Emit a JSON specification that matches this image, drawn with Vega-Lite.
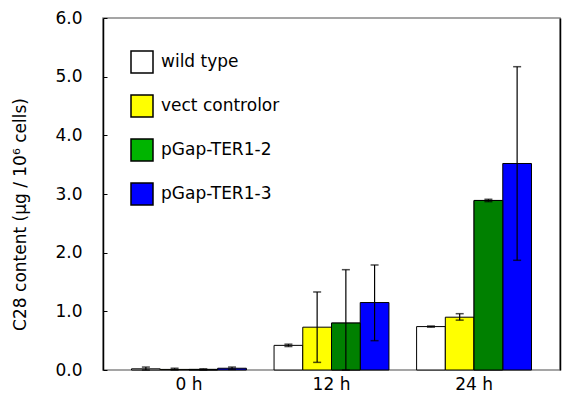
{
  "$schema": "https://vega.github.io/schema/vega-lite/v6.json",
  "width": 457,
  "height": 352,
  "autosize": "none",
  "padding": {"left": 103, "top": 18, "right": 4, "bottom": 24},
  "background": "white",
  "config": {
    "font": "DejaVu Sans",
    "view": {"stroke": "#888888", "strokeWidth": 1.5},
    "axis": {"grid": false, "labelFont": "DejaVu Sans", "titleFont": "DejaVu Sans", "labelColor": "#000", "titleColor": "#000"}
  },
  "data": {
    "values": [
      {"time": "0 h", "series": "wild type", "value": 0.02, "lo": 0.0, "hi": 0.05},
      {"time": "0 h", "series": "vect controlor", "value": 0.01, "lo": 0.0, "hi": 0.03},
      {"time": "0 h", "series": "pGap-TER1-2", "value": 0.01, "lo": 0.0, "hi": 0.02},
      {"time": "0 h", "series": "pGap-TER1-3", "value": 0.03, "lo": 0.01, "hi": 0.05},
      {"time": "12 h", "series": "wild type", "value": 0.42, "lo": 0.4, "hi": 0.44},
      {"time": "12 h", "series": "vect controlor", "value": 0.73, "lo": 0.13, "hi": 1.33},
      {"time": "12 h", "series": "pGap-TER1-2", "value": 0.8, "lo": 0.0, "hi": 1.71},
      {"time": "12 h", "series": "pGap-TER1-3", "value": 1.15, "lo": 0.5, "hi": 1.79},
      {"time": "24 h", "series": "wild type", "value": 0.74, "lo": 0.73, "hi": 0.75},
      {"time": "24 h", "series": "vect controlor", "value": 0.9, "lo": 0.85, "hi": 0.96},
      {"time": "24 h", "series": "pGap-TER1-2", "value": 2.89, "lo": 2.87, "hi": 2.91},
      {"time": "24 h", "series": "pGap-TER1-3", "value": 3.52, "lo": 1.87, "hi": 5.17}
    ]
  },
  "encoding": {
    "x": {
      "field": "time", "type": "nominal", "sort": ["0 h", "12 h", "24 h"],
      "scale": {"paddingInner": 0.194, "paddingOuter": 0.2},
      "axis": {"title": null, "labelAngle": 0, "ticks": false, "domain": false, "labelFontSize": 17, "labelPadding": 6}
    },
    "xOffset": {
      "field": "series", "type": "nominal",
      "scale": {"domain": ["wild type", "vect controlor", "pGap-TER1-2", "pGap-TER1-3"], "paddingInner": 0, "paddingOuter": 0}
    }
  },
  "layer": [
    {
      "mark": {"type": "bar", "stroke": "#000", "strokeWidth": 1},
      "encoding": {
        "y": {
          "field": "value", "type": "quantitative",
          "scale": {"domain": [0, 6], "nice": false},
          "axis": {
            "title": "C28 content (μg / 10⁶ cells)", "titleFontSize": 17, "titleFontWeight": "normal",
            "titleX": -83, "titleY": 196, "titleAngle": -90, "titleAlign": "center", "titleBaseline": "middle",
            "values": [0, 1, 2, 3, 4, 5, 6], "format": ".1f", "labelFontSize": 17,
            "tickSize": -4, "tickColor": "#000", "domainColor": "#000", "domainWidth": 1.5, "labelPadding": 25
          }
        },
        "color": {
          "field": "series", "type": "nominal",
          "scale": {"domain": ["wild type", "vect controlor", "pGap-TER1-2", "pGap-TER1-3"], "range": ["#ffffff", "#ffff00", "#00b400", "#0000ff"]},
          "legend": {
            "title": null, "orient": "none", "legendX": 27, "legendY": 32, "padding": 0,
            "symbolType": "square", "symbolSize": 484, "symbolStrokeColor": "#000", "symbolStrokeWidth": 1.5,
            "labelFontSize": 17, "labelFont": "DejaVu Sans", "labelColor": "#000", "labelOffset": 7, "rowPadding": 16,
            "symbolOpacity": 1,
            "encode": {"symbols": {
              "enter": {"stroke": {"value": "#000"}, "strokeWidth": {"value": 1.5}},
              "update": {"stroke": {"value": "#000"}, "strokeWidth": {"value": 1.5}}
            }}
          }
        }
      }
    },
    {
      "transform": [{"filter": "datum.series === 'pGap-TER1-2'"}],
      "mark": {"type": "bar", "fill": "#008000", "stroke": "#000", "strokeWidth": 1},
      "encoding": {"y": {"field": "value", "type": "quantitative", "axis": null}}
    },
    {
      "mark": {"type": "rule", "stroke": "#000", "strokeWidth": 1.2},
      "encoding": {
        "y": {"field": "lo", "type": "quantitative", "axis": {"orient": "right", "labels": false, "ticks": false, "title": null, "domainColor": "#000", "domainWidth": 1.5}},
        "y2": {"field": "hi"}
      }
    },
    {
      "mark": {"type": "tick", "color": "#000", "thickness": 1.5, "size": 8},
      "encoding": {"y": {"field": "lo", "type": "quantitative", "axis": null}}
    },
    {
      "mark": {"type": "tick", "color": "#000", "thickness": 1.5, "size": 8},
      "encoding": {"y": {"field": "hi", "type": "quantitative", "axis": null}}
    }
  ],
  "resolve": {"axis": {"y": "independent"}}
}
